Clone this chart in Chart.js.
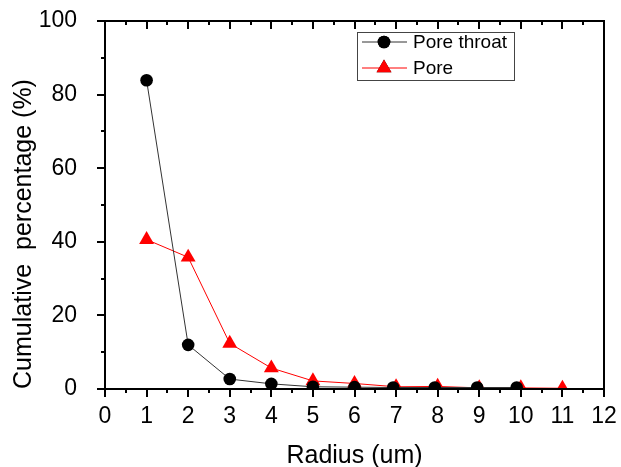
<!DOCTYPE html>
<html>
<head>
<meta charset="utf-8">
<script src="https://cdn.jsdelivr.net/npm/chart.js@4.4.1/dist/chart.umd.min.js"></script>
<style>
  html, body { margin: 0; padding: 0; background: #fff; }
  #wrap { width: 621px; height: 467px; }
</style>
</head>
<body>
<div id="wrap"><canvas id="poreChart" width="621" height="467"></canvas></div>
<script>
const throatRadius = [1, 2, 3, 4, 5, 6, 6.93, 7.93, 8.95, 9.9];
const throatValues = [83.9, 12.0, 2.7, 1.4, 0.6, 0.5, 0.4, 0.4, 0.4, 0.4];
const poreRadius = [1, 2, 3, 4, 5, 6, 7, 8, 9, 10, 11];
const poreValues = [40.6, 35.8, 12.4, 5.7, 2.2, 1.5, 0.6, 0.7, 0.3, 0.3, 0.2];
const seriesNames = ['Pore throat', 'Pore'];
const xTitle = 'Radius (um)';
const yTitle = 'Cumulative  percentage (%)';

const FONT = '"Liberation Sans", Arial, sans-serif';

// frame, ticks (major + minor), titles and legend
const framePlugin = {
    id: 'frame',
    afterDraw(chart) {
        const ctx = chart.ctx;
        const area = chart.chartArea;
        const x = chart.scales.x;
        const y = chart.scales.y;
        ctx.save();
        ctx.strokeStyle = '#000';
        ctx.lineWidth = 2;
        ctx.strokeRect(area.left, area.top, area.right - area.left, area.bottom - area.top);

        ctx.beginPath();
        for (let v = 0; v <= 12; v += 0.5) {
            const px = Math.round(x.getPixelForValue(v));
            const len = Number.isInteger(v) ? 8 : 4;
            ctx.moveTo(px, area.bottom);
            ctx.lineTo(px, area.bottom + len);
            ctx.moveTo(px, area.top);
            ctx.lineTo(px, area.top + len);
        }
        for (let v = 0; v <= 100; v += 10) {
            const py = Math.round(y.getPixelForValue(v));
            const len = v % 20 === 0 ? 8 : 4;
            ctx.moveTo(area.left, py);
            ctx.lineTo(area.left - len, py);
        }
        ctx.stroke();

        // axis titles
        ctx.fillStyle = '#000';
        ctx.font = '25px ' + FONT;
        ctx.textAlign = 'center';
        ctx.textBaseline = 'alphabetic';
        ctx.fillText(xTitle, (area.left + area.right) / 2, 463);
        ctx.save();
        ctx.translate(31, 234);
        ctx.rotate(-Math.PI / 2);
        ctx.fillText(yTitle, 0, 0);
        ctx.restore();

        // legend
        ctx.lineWidth = 1;
        ctx.strokeStyle = '#444';
        ctx.strokeRect(357.5, 32.5, 157, 48);
        const rows = [42, 68];
        chart.data.datasets.forEach((ds, i) => {
            const ry = rows[i];
            ctx.strokeStyle = ds.borderColor;
            ctx.lineWidth = 1;
            ctx.beginPath();
            ctx.moveTo(362, ry);
            ctx.lineTo(407, ry);
            ctx.stroke();
            Chart.helpers.drawPoint(ctx, {
                pointStyle: ds.pointStyle,
                radius: ds.pointRadius,
                borderWidth: 0
            }, 384, ry);
            ctx.fillStyle = ds.pointBackgroundColor;
            ctx.fill();
            ctx.fillStyle = '#000';
            ctx.font = '19px ' + FONT;
            ctx.textAlign = 'left';
            ctx.textBaseline = 'middle';
            ctx.fillText(ds.label, 413, ry + 1);
        });
        ctx.restore();
    }
};

const chartConfig = {
    type: 'line',
    data: {
        datasets: [{
            label: seriesNames[0],
            data: throatRadius.map((r, i) => ({ x: r, y: throatValues[i] })),
            borderColor: '#333333',
            borderWidth: 1,
            pointStyle: 'circle',
            pointRadius: 6.3,
            pointBackgroundColor: '#000',
            pointBorderWidth: 0,
            tension: 0,
            clip: { left: 12, top: 12, right: 12, bottom: 0 }
        }, {
            label: seriesNames[1],
            data: poreRadius.map((r, i) => ({ x: r, y: poreValues[i] })),
            borderColor: '#ff0000',
            borderWidth: 1,
            pointStyle: 'triangle',
            pointRadius: 8.6,
            pointBackgroundColor: '#ff0000',
            pointBorderWidth: 0,
            tension: 0,
            clip: { left: 12, top: 12, right: 12, bottom: 0 }
        }]
    },
    options: {
        responsive: false,
        animation: false,
        events: [],
        layout: { padding: { top: 21, right: 17, left: 0, bottom: 0 } },
        plugins: {
            legend: { display: false },
            tooltip: { enabled: false }
        },
        scales: {
            x: {
                type: 'linear',
                min: 0,
                max: 12,
                grid: { display: false },
                border: { display: false },
                ticks: {
                    stepSize: 1,
                    padding: 6,
                    color: '#000',
                    font: { family: FONT, size: 23 },
                    maxRotation: 0
                },
                afterFit(scale) {
                    scale.height = 78;
                    scale.paddingLeft = 0;
                    scale.paddingRight = 0;
                }
            },
            y: {
                min: 0,
                max: 100,
                grid: { display: false },
                border: { display: false },
                ticks: {
                    stepSize: 20,
                    padding: 20,
                    color: '#000',
                    font: { family: FONT, size: 23 }
                },
                afterFit(scale) {
                    scale.width = 105;
                    scale.paddingTop = 0;
                    scale.paddingBottom = 0;
                }
            }
        }
    },
    plugins: [framePlugin]
};

new Chart(document.getElementById('poreChart').getContext('2d'), chartConfig);
</script>
</body>
</html>
